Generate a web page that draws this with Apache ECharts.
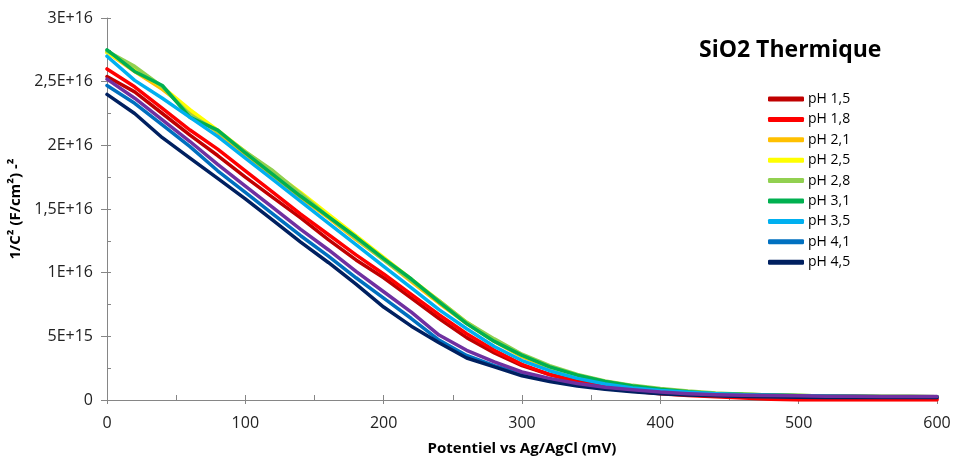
<!DOCTYPE html>
<html>
<head>
<meta charset="utf-8">
<script src="https://cdn.jsdelivr.net/npm/echarts@6/dist/echarts.min.js"></script>
<style>
html,body{margin:0;padding:0;background:#fff;}
#c{width:955px;height:461px;}
</style>
</head>
<body>
<div id="c"></div>
<script>
// Potential (mV)
var potentials = [0,20,40,60,80,100,120,140,160,180,200,220,240,260,280,300,320,340,360,380,400,420,440,460,480,500,520,540,560,580,600];
// 1/C² values in units of 1E+15
var pH15 = [25.4,24.2,22.5,20.8,19.2,17.5,15.9,14.3,12.6,11.0,9.6,8.0,6.4,4.9,3.7,2.7,2.0,1.5,1.1,0.85,0.65,0.5,0.4,0.3,0.2,0.15,0.12,0.1,0.1,0.1,0.1];
var pH18 = [26.0,24.6,22.9,21.2,19.7,18.0,16.3,14.6,13.0,11.4,9.9,8.3,6.7,5.2,3.9,2.8,2.0,1.4,1.0,0.7,0.5,0.35,0.25,0.15,0.05,0,0,0,0,0,0];
var pH21 = [27.3,25.8,24.4,22.7,21.0,19.2,17.6,15.9,14.3,12.6,11.0,9.3,7.6,6.0,4.6,3.4,2.5,1.85,1.4,1.05,0.8,0.62,0.5,0.42,0.37,0.33,0.3,0.28,0.26,0.25,0.25];
var pH25 = [27.3,26.0,24.6,22.8,21.2,19.5,17.9,16.3,14.6,12.9,11.2,9.5,7.8,6.1,4.7,3.5,2.6,1.9,1.45,1.1,0.85,0.65,0.52,0.45,0.4,0.35,0.32,0.3,0.28,0.27,0.26];
var pH28 = [27.4,26.2,24.6,22.4,21.1,19.5,18.0,16.2,14.4,12.7,11.0,9.4,7.8,6.1,4.8,3.6,2.7,2.0,1.5,1.15,0.9,0.7,0.55,0.45,0.4,0.35,0.32,0.3,0.28,0.27,0.26];
var pH31 = [27.5,25.8,24.7,22.2,21.2,19.4,17.7,16.0,14.4,12.8,11.1,9.5,7.7,6.0,4.6,3.5,2.6,1.95,1.45,1.1,0.85,0.65,0.5,0.45,0.4,0.35,0.32,0.3,0.28,0.27,0.26];
var pH35 = [27.0,25.1,23.7,22.2,20.7,19.0,17.3,15.6,13.9,12.2,10.5,8.8,7.1,5.6,4.2,3.1,2.3,1.7,1.25,0.95,0.75,0.6,0.5,0.42,0.37,0.33,0.3,0.28,0.26,0.25,0.25];
var pH41 = [24.7,23.3,21.6,19.9,18.0,16.3,14.6,12.9,11.3,9.6,8.0,6.4,4.7,3.5,2.7,2.05,1.6,1.2,0.9,0.7,0.55,0.45,0.37,0.3,0.27,0.25,0.23,0.22,0.22,0.22,0.22];
var pH45 = [24.0,22.5,20.6,19.0,17.4,15.8,14.1,12.4,10.8,9.1,7.3,5.8,4.5,3.3,2.6,1.9,1.45,1.1,0.85,0.65,0.5,0.4,0.33,0.28,0.25,0.22,0.2,0.2,0.2,0.2,0.2];
var unlabeled = [25.2,23.7,22.0,20.3,18.5,16.8,15.1,13.4,11.8,10.1,8.5,6.9,5.1,3.9,3.0,2.2,1.7,1.3,1.0,0.8,0.62,0.5,0.42,0.38,0.35,0.33,0.3,0.3,0.28,0.27,0.27];

var seriesNames = ['pH 1,5','pH 1,8','pH 2,1','pH 2,5','pH 2,8','pH 3,1','pH 3,5','pH 4,1','pH 4,5',''];
var seriesValues = [pH15,pH18,pH21,pH25,pH28,pH31,pH35,pH41,pH45,unlabeled];
var seriesColors = ['#C00000','#FF0000','#FFC000','#FFFF00','#92D050','#00B050','#00B0F0','#0070C0','#002060','#7030A0'];

var xTicks = [0,100,200,300,400,500,600];
var yTickLabels = ['0','5E+15','1E+16','1,5E+16','2E+16','2,5E+16','3E+16'];

var FONT = '"Open Sans", sans-serif';
var AX = '#868686';

var series = seriesValues.map(function(vals, i){
  return {
    name: seriesNames[i] || 'pH ?',
    type: 'line',
    data: potentials.map(function(p, k){ return [p, vals[k]]; }),
    showSymbol: false,
    symbol: 'none',
    lineStyle: {width: 3.5, color: seriesColors[i], join: 'round', cap: 'round'},
    itemStyle: {color: seriesColors[i]},
    z: 2 + i,
    animation: false
  };
});

var chart = echarts.init(document.getElementById('c'), null, {renderer: 'canvas'});
chart.setOption({
  backgroundColor: '#fff',
  animation: false,
  title: {
    text: 'SiO2 Thermique',
    left: 694, top: 34,
    textStyle: {fontFamily: FONT, fontWeight: 'bold', fontSize: 23, color: '#000'}
  },
  legend: {
    orient: 'vertical',
    left: 763, top: 87,
    data: seriesNames.slice(0, 9),
    icon: 'roundRect',
    itemWidth: 36, itemHeight: 5,
    itemGap: 6.4,
    textStyle: {fontFamily: FONT, fontSize: 14, color: '#000', lineHeight: 14, padding: [0,0,0,-1]}
  },
  grid: {left: 107, right: 18, top: 18, bottom: 61, containLabel: false, outerBoundsMode: 'none'},
  xAxis: [{
    type: 'value', min: 0, max: 600, interval: 100,
    name: 'Potentiel vs Ag/AgCl (mV)', nameLocation: 'middle', nameGap: 41,
    nameTextStyle: {fontFamily: FONT, fontWeight: 'bold', fontSize: 15, color: '#000'},
    axisLine: {lineStyle: {color: AX, width: 1}},
    axisTick: {show: true, length: 4, lineStyle: {color: AX}},
    axisLabel: {fontFamily: FONT, fontSize: 16, color: '#222', margin: 15,
      formatter: function(v){ return xTicks.indexOf(v) >= 0 ? String(v) : ''; }},
    splitLine: {show: false}
  },{
    type: 'value', min: 0, max: 600, interval: 50,
    axisLine: {show: false},
    axisTick: {show: true, inside: true, length: 5, lineStyle: {color: AX}},
    axisLabel: {show: false}, splitLine: {show: false}, position: 'bottom'
  }],
  yAxis: [{
    type: 'value', min: 0, max: 30, interval: 5,
    name: '1/C² (F/cm²) -²', nameLocation: 'middle', nameGap: 80, nameRotate: 90,
    nameTextStyle: {fontFamily: FONT, fontWeight: 'bold', fontSize: 15, color: '#000'},
    axisLine: {show: true, lineStyle: {color: AX, width: 1}},
    axisTick: {show: true, length: 6, lineStyle: {color: AX}},
    axisLabel: {fontFamily: FONT, fontSize: 16, color: '#222', margin: 14,
      formatter: function(v){ return yTickLabels[Math.round(v / 5)]; }},
    splitLine: {show: false}
  },{
    type: 'value', min: 0, max: 30, interval: 2.5,
    axisLine: {show: false},
    axisTick: {show: true, inside: true, length: 4, lineStyle: {color: AX}},
    axisLabel: {show: false}, splitLine: {show: false}, position: 'left'
  }],
  series: series
});
</script>
</body>
</html>
